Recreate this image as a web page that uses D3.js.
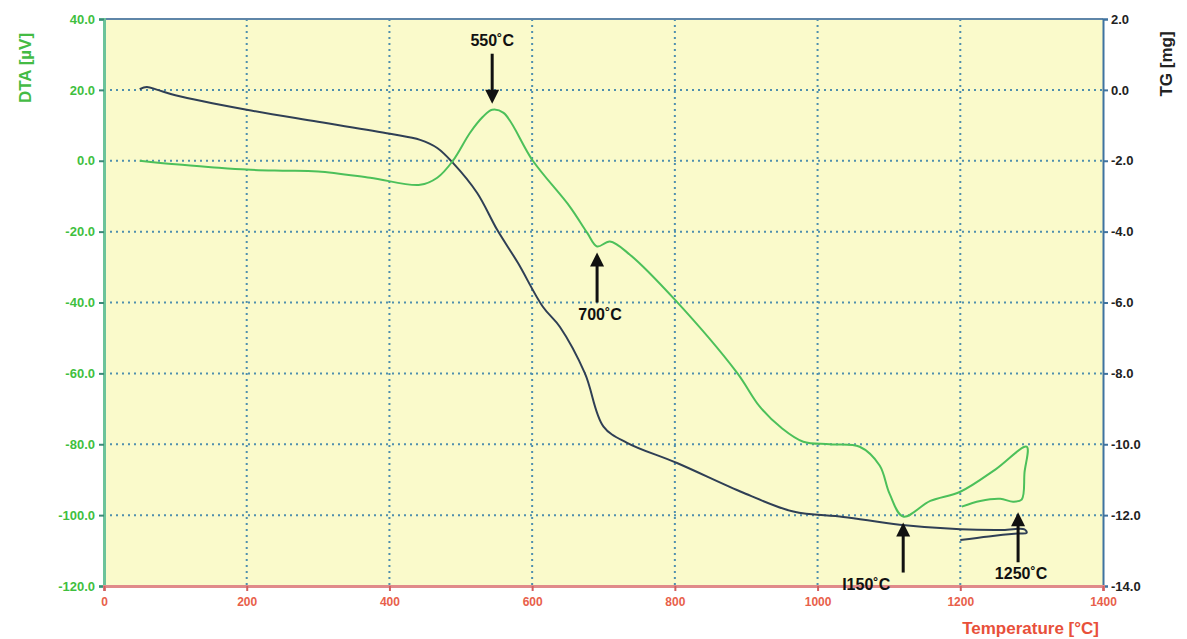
<!DOCTYPE html>
<html>
<head>
<meta charset="utf-8">
<script src="https://cdn.jsdelivr.net/npm/d3@7"></script>
<style>
  html, body { margin: 0; padding: 0; background: #ffffff; }
  svg { display: block; font-family: "Liberation Sans", Arial, sans-serif; }
</style>
</head>
<body>
<svg id="chart" width="1187" height="639"></svg>
<script>
// Temperature ticks (°C) and axis ticks
const tempTicks = [0, 200, 400, 600, 800, 1000, 1200, 1400];
const dtaTicks = [40, 20, 0, -20, -40, -60, -80, -100, -120];
const tgTicks = [2, 0, -2, -4, -6, -8, -10, -12, -14];

// DTA trace (µV) — heating run, then the cooling return
const dtaTemp = [50, 100, 150, 200, 250, 300, 373, 443, 467, 489, 513, 531, 544, 560, 601, 653, 677, 691, 709, 737, 800, 887, 919, 950, 980, 1017, 1059, 1087, 1101, 1120, 1158, 1200, 1250, 1293, 1290, 1286, 1274, 1256, 1228, 1202];
const dtaValue = [0, -1, -1.8, -2.5, -2.8, -3, -4.8, -6.8, -4.8, 0, 7.9, 12.4, 14.4, 13.5, 0, -13, -20.3, -24.2, -22.8, -26.5, -39.2, -59.8, -69.4, -75.5, -79.3, -80, -80.7, -86, -94, -100.4, -96, -93.4, -87, -80.7, -88, -95.6, -96.2, -95.4, -96, -97.6];

// TG trace (mg) — heating run, then the cooling return
const tgTemp = [50, 60, 75, 100, 200, 300, 401, 443, 467, 489, 523, 551, 580, 615, 639, 674, 700, 733, 803, 896, 966, 1036, 1115, 1200, 1260, 1290, 1293, 1280, 1240, 1200];
const tgValue = [0.02, 0.08, 0.0, -0.15, -0.56, -0.9, -1.24, -1.41, -1.64, -2.06, -2.91, -3.95, -4.88, -6.12, -6.69, -8.0, -9.5, -9.96, -10.53, -11.37, -11.9, -12.05, -12.27, -12.4, -12.42, -12.4, -12.5, -12.52, -12.6, -12.7];

// Annotated events
const eventLabels = ["550˚C", "700˚C", "I150˚C", "1250˚C"];
const eventTemp = [544, 691, 1120, 1281];
const eventDta = [14.4, -24.2, -100.4, -97.5];
const eventDir = ["down", "up", "up", "up"];

const svg = d3.select("#chart");
const plotL = 104, plotR = 1103, plotT = 19, plotB = 586;

const x = d3.scaleLinear().domain([0, 1400]).range([plotL, plotR]);
const yDta = d3.scaleLinear().domain([-120, 40]).range([plotB, plotT]);
const yTg = d3.scaleLinear().domain([-14, 2]).range([plotB, plotT]);

const fmt1 = d => d.toFixed(1);

// plot background
svg.append("rect")
  .attr("x", plotL).attr("y", plotT)
  .attr("width", plotR - plotL).attr("height", plotB - plotT)
  .attr("fill", "#fafacb");

// dotted grid
const gridColor = "#4f8fae";
svg.append("g").selectAll("line").data(tempTicks.slice(1, -1)).join("line")
  .attr("x1", d => x(d)).attr("x2", d => x(d))
  .attr("y1", plotT).attr("y2", plotB)
  .attr("stroke", gridColor).attr("stroke-width", 2)
  .attr("stroke-dasharray", "2,4");
svg.append("g").selectAll("line").data(dtaTicks.slice(1, -1)).join("line")
  .attr("x1", plotL).attr("x2", plotR)
  .attr("y1", d => yDta(d)).attr("y2", d => yDta(d))
  .attr("stroke", gridColor).attr("stroke-width", 2)
  .attr("stroke-dasharray", "2,4");

// top frame line
svg.append("line").attr("x1", plotL).attr("x2", plotR).attr("y1", plotT).attr("y2", plotT)
  .attr("stroke", "#5f86a8").attr("stroke-width", 2);

// left DTA axis
const axL = svg.append("g").attr("transform", `translate(${plotL},0)`)
  .call(d3.axisLeft(yDta).tickValues(dtaTicks).tickSize(5).tickFormat(fmt1));
axL.select(".domain").attr("stroke", "#6cc39a").attr("stroke-width", 3);
axL.selectAll(".tick line").attr("stroke", "#3d8a78").attr("stroke-width", 2);
axL.selectAll(".tick text").attr("fill", "#3fbf3f").attr("font-size", 13).attr("font-weight", "bold")
  .attr("x", -9);

// right TG axis
const axR = svg.append("g").attr("transform", `translate(${plotR},0)`)
  .call(d3.axisRight(yTg).tickValues(tgTicks).tickSize(5).tickFormat(fmt1));
axR.select(".domain").attr("stroke", "#3f73a0").attr("stroke-width", 2);
axR.selectAll(".tick line").attr("stroke", "#3f73a0").attr("stroke-width", 2);
axR.selectAll(".tick text").attr("fill", "#222").attr("font-size", 13).attr("font-weight", "bold")
  .attr("x", 8);

// bottom temperature axis
const axB = svg.append("g").attr("transform", `translate(0,${plotB})`)
  .call(d3.axisBottom(x).tickValues(tempTicks).tickSize(5).tickFormat(d3.format("d")));
axB.select(".domain").attr("stroke", "#e08a8a").attr("stroke-width", 3);
axB.selectAll(".tick line").attr("stroke", "#d06060").attr("stroke-width", 2);
axB.selectAll(".tick text").attr("fill", "#e8604a").attr("font-size", 12).attr("font-weight", "bold")
  .attr("y", 11);

// axis titles
svg.append("text")
  .attr("transform", "translate(31,68) rotate(-90)")
  .attr("text-anchor", "middle")
  .attr("fill", "#44bb44").attr("font-size", 17).attr("font-weight", "bold")
  .text("DTA  [µV]");
svg.append("text")
  .attr("transform", "translate(1172,64) rotate(-90)")
  .attr("text-anchor", "middle")
  .attr("fill", "#222").attr("font-size", 17).attr("font-weight", "bold")
  .text("TG  [mg]");
svg.append("text")
  .attr("x", 1099).attr("y", 634)
  .attr("text-anchor", "end")
  .attr("fill", "#e8503a").attr("font-size", 17).attr("font-weight", "bold")
  .text("Temperature  [°C]");

// curves
const tgLine = d3.line().x((d, i) => x(tgTemp[i])).y(d => yTg(d)).curve(d3.curveCatmullRom.alpha(0.5));
svg.append("path").datum(tgValue)
  .attr("d", tgLine)
  .attr("fill", "none").attr("stroke", "#2f3f55").attr("stroke-width", 2);

const dtaLine = d3.line().x((d, i) => x(dtaTemp[i])).y(d => yDta(d)).curve(d3.curveCatmullRom.alpha(0.5));
svg.append("path").datum(dtaValue)
  .attr("d", dtaLine)
  .attr("fill", "none").attr("stroke", "#4cc05a").attr("stroke-width", 2);

// event arrows and labels
const ann = svg.append("g");
eventLabels.forEach((lab, i) => {
  const ax = x(eventTemp[i]);
  const ay = yDta(eventDta[i]);
  const down = eventDir[i] === "down";
  const tip = down ? ay - 6 : ay + 6;
  const tail = down ? tip - 50 : tip + 50;
  const head = down ? -14 : 14;
  ann.append("line")
    .attr("x1", ax).attr("x2", ax).attr("y1", tail).attr("y2", tip + head * 0.7)
    .attr("stroke", "#111").attr("stroke-width", 3);
  ann.append("path")
    .attr("d", `M${ax},${tip} L${ax - 7},${tip + head} L${ax + 7},${tip + head} Z`)
    .attr("fill", "#111");
  let lx = ax, ly;
  if (down) ly = tail - 8;
  else ly = tail + 17;
  if (i === 1) lx = ax + 3;
  if (i === 2) lx = ax - 37;
  if (i === 3) lx = ax + 3;
  ann.append("text")
    .attr("x", lx).attr("y", ly)
    .attr("text-anchor", "middle")
    .attr("fill", "#111").attr("font-size", 16).attr("font-weight", "bold")
    .text(lab);
});
</script>
</body>
</html>
